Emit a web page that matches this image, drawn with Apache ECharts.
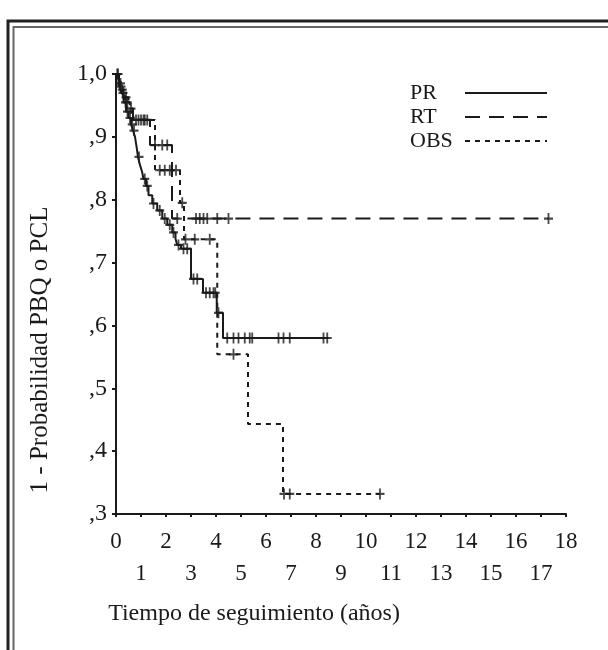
<!DOCTYPE html>
<html>
<head>
<meta charset="utf-8">
<script src="https://cdn.jsdelivr.net/npm/echarts@6/dist/echarts.min.js"></script>
<style>
  html, body { margin: 0; padding: 0; background: #fff; }
  #chart { width: 608px; height: 650px; }
</style>
</head>
<body>
<div id="chart"></div>
<script>
// datos: [tiempo (años), 1 - probabilidad]
var prSteps = [[0,1.0],[0.12,0.985],[0.2,0.97],[0.3,0.955],[0.4,0.94],[0.5,0.93],[0.6,0.92],[0.68,0.91],[0.76,0.9],[0.82,0.885],[0.88,0.868],[0.96,0.855],[1.04,0.845],[1.1,0.833],[1.2,0.822],[1.3,0.807],[1.45,0.794],[1.65,0.783],[1.85,0.77],[2.05,0.76],[2.25,0.748],[2.38,0.738],[2.45,0.728],[2.6,0.722],[3.0,0.674],[3.48,0.652],[4.03,0.62],[4.28,0.58],[8.5,0.58]];
var rtSteps = [[0,1.0],[0.1,0.98],[0.3,0.963],[0.5,0.945],[0.68,0.927],[1.36,0.887],[2.24,0.77],[17.3,0.77]];
var obsSteps = [[0,1.0],[0.15,0.975],[0.35,0.955],[0.55,0.94],[0.7,0.927],[1.56,0.847],[2.56,0.795],[2.72,0.737],[4.05,0.554],[5.28,0.443],[6.68,0.332],[10.56,0.332]];

// censuras (+)
var prCensor = [0.08,0.18,0.28,0.38,0.46,0.56,0.65,0.72,0.92,1.15,1.25,1.5,1.75,1.95,2.15,2.3,2.5,2.7,2.85,3.1,3.25,3.6,3.75,3.9,3.97,4.1,4.45,4.7,4.9,5.15,5.35,5.45,6.5,6.7,6.95,8.3,8.45];
var rtCensor = [0.05,0.2,0.4,0.6,0.9,1.0,1.15,1.25,1.56,1.85,2.05,2.45,3.2,3.35,3.5,3.65,4.05,4.5,17.3];
var obsCensor = [0.25,0.45,0.8,1.1,1.75,1.95,2.15,2.4,2.65,2.78,3.15,3.75,4.7,6.72,6.95,10.56];

var seriesNames = ['PR', 'RT', 'OBS'];
var xTickLabels = ['0','1','2','3','4','5','6','7','8','9','10','11','12','13','14','15','16','17','18'];
var yTickLabels = [',3', ',4', ',5', ',6', ',7', ',8', ',9', '1,0'];

var ink = '#1a1a1a';
var serif = "'Liberation Serif', 'DejaVu Serif', serif";
var plus = 'path://M4,0H6V4H10V6H6V10H4V6H0V4H4Z';

function valueAt(steps, t) {
    var v = steps[0][1];
    for (var i = 0; i < steps.length; i++) {
        if (steps[i][0] <= t + 1e-9) v = steps[i][1];
    }
    return v;
}
function censorPoints(steps, times) {
    return times.map(function (t) { return [t, valueAt(steps, t)]; });
}

var dashes = { PR: 'solid', RT: [15, 9], OBS: [5, 5] };

var chart = echarts.init(document.getElementById('chart'));
var option = {
    animation: false,
    backgroundColor: '#fff',
    grid: { left: 116, right: 42, top: 74, bottom: 136 },
    legend: {
        data: seriesNames.map(function (n) {
            return { name: n, lineStyle: { color: ink, width: 2, type: dashes[n] } };
        }),
        orient: 'vertical',
        left: 405,
        top: 77,
        align: 'right',
        itemWidth: 82,
        itemHeight: 12,
        itemGap: 2,
        itemStyle: { opacity: 0 },
        selectedMode: false,
        formatter: function (n) { return '{t|' + n + '}'; },
        textStyle: {
            fontFamily: serif, fontSize: 22, color: ink,
            rich: { t: { width: 50, align: 'left', fontFamily: serif, fontSize: 22, color: ink, lineHeight: 24 } }
        }
    },
    xAxis: {
        type: 'value',
        min: 0,
        max: 18,
        interval: 1,
        axisLine: { lineStyle: { color: ink, width: 2 } },
        axisTick: { length: 3, lineStyle: { color: ink, width: 2 } },
        splitLine: { show: false },
        axisLabel: {
            margin: 12,
            fontFamily: serif,
            fontSize: 23,
            lineHeight: 32,
            color: ink,
            formatter: function (v) {
                var s = xTickLabels[Math.round(v)];
                return Math.round(v) % 2 ? '\n' + s : s;
            }
        }
    },
    yAxis: {
        type: 'value',
        min: 0.3,
        max: 1.0,
        interval: 0.1,
        axisLine: { show: true, lineStyle: { color: ink, width: 2 } },
        axisTick: { show: true, length: 4, lineStyle: { color: ink, width: 2 } },
        splitLine: { show: false },
        axisLabel: {
            margin: 9,
            fontFamily: serif,
            fontSize: 24,
            color: ink,
            formatter: function (v) { return yTickLabels[Math.round(v * 10) - 3]; }
        }
    },
    graphic: [
        { type: 'rect', shape: { x: 8, y: 21, width: 700, height: 700 }, style: { fill: 'none', stroke: '#222', lineWidth: 3 }, silent: true },
        { type: 'rect', shape: { x: 13.5, y: 27, width: 700, height: 700 }, style: { fill: 'none', stroke: '#666', lineWidth: 2 }, silent: true },
        { type: 'text', x: 40, y: 350, rotation: Math.PI / 2,
          style: { text: '1 - Probabilidad PBQ o PCL', font: '25px ' + serif, fill: ink, align: 'center', verticalAlign: 'middle' } },
        { type: 'text', x: 254, y: 614,
          style: { text: 'Tiempo de seguimiento (años)', font: '24px ' + serif, fill: ink, align: 'center', verticalAlign: 'middle' } }
    ],
    series: [
        { name: 'PR', type: 'line', step: 'end', symbol: 'none', data: prSteps,
          lineStyle: { color: ink, width: 2, type: dashes.PR }, itemStyle: { color: ink } },
        { name: 'RT', type: 'line', step: 'end', symbol: 'none', data: rtSteps,
          lineStyle: { color: ink, width: 2, type: dashes.RT }, itemStyle: { color: ink } },
        { name: 'OBS', type: 'line', step: 'end', symbol: 'none', data: obsSteps,
          lineStyle: { color: ink, width: 2, type: dashes.OBS }, itemStyle: { color: ink } },
        { name: 'PR+', type: 'scatter', symbol: plus, symbolSize: [9, 11], data: censorPoints(prSteps, prCensor), itemStyle: { color: ink } },
        { name: 'RT+', type: 'scatter', symbol: plus, symbolSize: [9, 11], data: censorPoints(rtSteps, rtCensor), itemStyle: { color: ink } },
        { name: 'OBS+', type: 'scatter', symbol: plus, symbolSize: [9, 11], data: censorPoints(obsSteps, obsCensor), itemStyle: { color: ink } }
    ]
};
chart.setOption(option);
</script>
</body>
</html>
